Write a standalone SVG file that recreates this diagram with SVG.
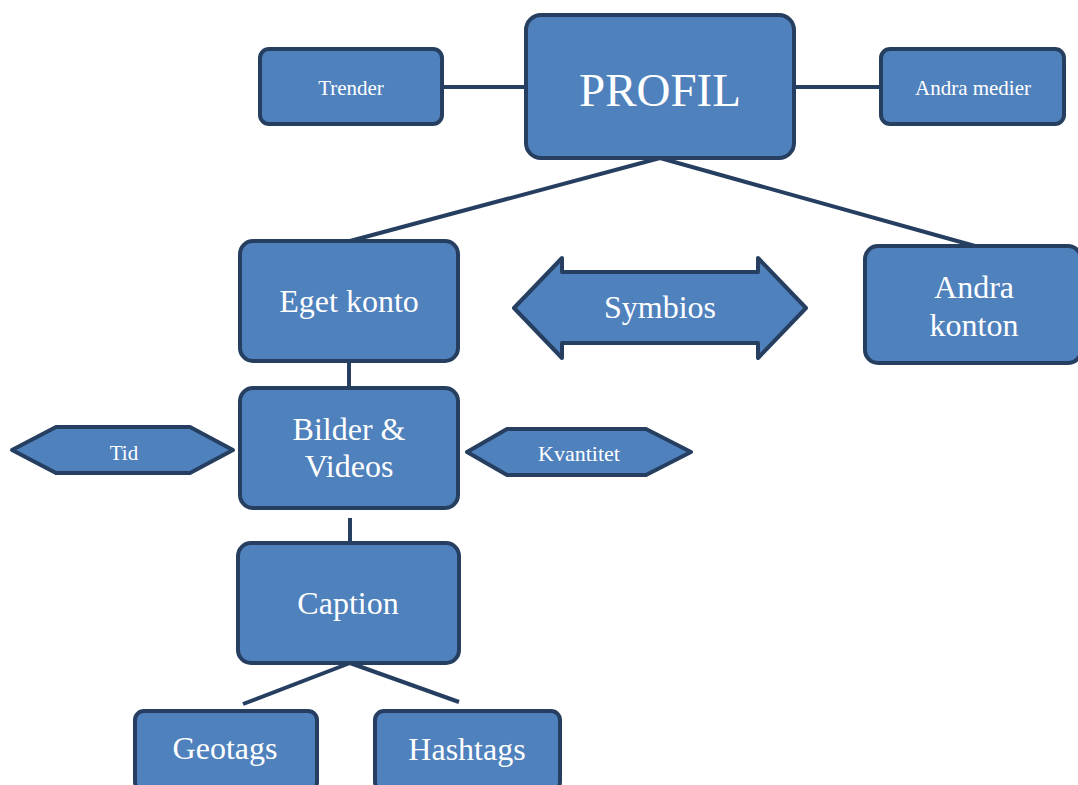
<svg xmlns="http://www.w3.org/2000/svg" width="1078" height="785" viewBox="0 0 1078 785">
<style>
.n{fill:#4F81BD;stroke:#263F61;stroke-width:4;stroke-linejoin:round}
.c{stroke:#263F61;stroke-width:4;fill:none}
text{font-family:"Liberation Serif","Times New Roman",serif;fill:#fff;text-anchor:middle}
.b{font-size:32px}
.s{font-size:21px}
</style>
<rect width="1078" height="785" fill="#fff"/>
<g id="connectors">
<line class="c" x1="442" y1="87" x2="526" y2="87"/>
<line class="c" x1="794" y1="87" x2="881" y2="87"/>
<line class="c" x1="660" y1="158" x2="350" y2="241"/>
<line class="c" x1="660" y1="158" x2="975" y2="246"/>
<line class="c" x1="349" y1="361" x2="349" y2="388"/>
<line class="c" x1="350" y1="518" x2="350" y2="543"/>
<line class="c" x1="350" y1="663" x2="243" y2="704"/>
<line class="c" x1="350" y1="663" x2="459" y2="702"/>
</g>
<g id="profil"><rect class="n" x="526" y="15" width="268" height="143" rx="15"/><text x="660" y="106" font-size="47">PROFIL</text></g>
<g id="trender"><rect class="n" x="260" y="49" width="182" height="75" rx="9"/><text class="s" x="351" y="95">Trender</text></g>
<g id="andra-medier"><rect class="n" x="881" y="49" width="183" height="75" rx="9"/><text class="s" x="973" y="95">Andra medier</text></g>
<g id="eget-konto"><rect class="n" x="240" y="241" width="218" height="120" rx="13"/><text class="b" x="349" y="312">Eget konto</text></g>
<g id="andra-konton"><rect class="n" x="865" y="246" width="216" height="117" rx="13"/><text class="b" x="974" y="298">Andra</text><text class="b" x="974" y="336">konton</text></g>
<g id="symbios"><polygon class="n" points="514,308 562,258 562,272 758,272 758,258 806,308 758,358 758,343 562,343 562,358"/><text class="b" x="660" y="318">Symbios</text></g>
<g id="bilder"><rect class="n" x="240" y="388" width="218" height="120" rx="13"/><text class="b" x="349" y="440">Bilder &amp;</text><text class="b" x="349" y="477">Videos</text></g>
<g id="tid"><polygon class="n" points="12,450 56,427 190,427 233,450 190,473 56,473"/><text class="s" x="124" y="460">Tid</text></g>
<g id="kvantitet"><polygon class="n" points="467,452 507,429 646,429 691,452 646,475 507,475"/><text x="579" y="461" font-size="22">Kvantitet</text></g>
<g id="caption"><rect class="n" x="238" y="543" width="221" height="120" rx="13"/><text class="b" x="348" y="614">Caption</text></g>
<g id="geotags"><rect class="n" x="135" y="711" width="182" height="80" rx="9"/><text class="b" x="225" y="759">Geotags</text></g>
<g id="hashtags"><rect class="n" x="375" y="711" width="185" height="80" rx="9"/><text class="b" x="467" y="760">Hashtags</text></g>
</svg>
